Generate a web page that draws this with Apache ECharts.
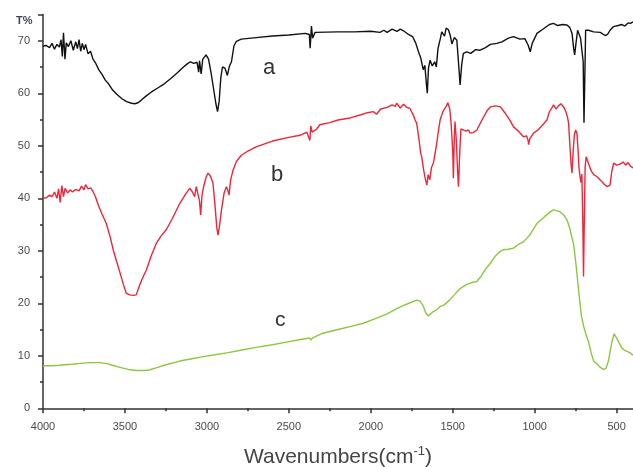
<!DOCTYPE html>
<html>
<head>
<meta charset="utf-8">
<script src="https://cdn.jsdelivr.net/npm/echarts@6/dist/echarts.min.js"></script>
<style>
html, body { margin: 0; padding: 0; background: #fff; }
#chart1 { width: 633px; height: 467px; }
</style>
</head>
<body>
<div id="chart1"></div>
<script>
// wavenumber (cm-1), transmittance (%)
var curveA = [
    [4000, 69.0], [3980, 69.1], [3960, 68.7], [3945, 69.5], [3930, 68.4], [3915, 69.3], [3900, 68.8],
    [3890, 70.2], [3882, 67.0], [3875, 71.5], [3866, 66.5], [3858, 69.6], [3845, 68.9], [3830, 70.0],
    [3815, 68.2], [3800, 69.8], [3790, 68.5], [3780, 70.2], [3770, 68.0], [3760, 69.5], [3750, 68.3],
    [3740, 69.3], [3725, 67.5], [3710, 68.0], [3695, 66.5], [3680, 65.8], [3660, 64.5], [3640, 63.6],
    [3620, 62.5], [3600, 61.8], [3575, 60.6], [3550, 59.8], [3520, 59.0], [3490, 58.4], [3460, 58.1],
    [3440, 58.0], [3420, 58.2], [3400, 58.7], [3370, 59.5], [3340, 60.2], [3300, 61.0], [3260, 61.8],
    [3220, 62.8], [3180, 63.9], [3150, 64.8], [3120, 65.6], [3100, 66.0], [3080, 65.7], [3060, 65.9],
    [3050, 64.0], [3045, 66.2], [3035, 63.7], [3025, 66.5], [3005, 67.3], [2990, 66.5], [2975, 64.0],
    [2960, 61.0], [2945, 58.0], [2935, 56.5], [2925, 58.5], [2915, 63.0], [2905, 65.0], [2890, 64.8],
    [2875, 63.4], [2862, 65.2], [2850, 66.0], [2835, 69.0], [2820, 69.9], [2790, 70.3], [2700, 70.6],
    [2600, 70.9], [2500, 71.1], [2400, 71.4], [2375, 71.2], [2370, 68.6], [2362, 72.8], [2355, 70.5],
    [2340, 71.6], [2200, 71.7], [2100, 71.7], [2000, 71.8], [1944, 71.6], [1920, 72.0], [1900, 71.6],
    [1870, 72.2], [1840, 71.8], [1820, 72.2], [1800, 71.9], [1770, 71.2], [1745, 70.8], [1725, 69.5],
    [1710, 68.0], [1695, 66.7], [1680, 64.5], [1670, 65.3], [1660, 61.5], [1655, 60.0], [1648, 64.8],
    [1638, 66.3], [1625, 65.2], [1610, 66.0], [1600, 65.0], [1590, 68.5], [1575, 70.5], [1567, 71.7],
    [1550, 70.9], [1540, 72.4], [1526, 72.1], [1515, 71.0], [1505, 69.4], [1490, 70.6], [1475, 70.1],
    [1465, 66.0], [1455, 61.6], [1445, 65.5], [1435, 67.6], [1414, 67.9], [1390, 67.6], [1360, 68.3],
    [1333, 68.2], [1300, 68.7], [1270, 69.3], [1231, 69.5], [1200, 69.8], [1160, 70.5], [1129, 70.8],
    [1090, 70.3], [1060, 70.4], [1040, 69.2], [1027, 67.9], [1015, 69.5], [986, 71.4], [950, 72.2],
    [910, 73.1], [885, 73.3], [860, 72.9], [830, 73.1], [803, 73.0], [785, 72.5], [772, 71.4],
    [762, 68.5], [756, 67.3], [748, 69.5], [738, 72.0], [730, 71.8], [720, 70.5], [711, 70.5],
    [704, 66.0], [699, 54.4], [694, 63.0], [689, 72.0], [672, 72.0], [640, 71.7], [600, 71.6],
    [570, 71.0], [555, 71.2], [540, 72.0], [519, 72.7], [490, 72.9], [470, 73.1], [450, 72.8],
    [430, 73.4], [416, 73.3], [400, 73.6]
];

var curveB = [
    [4000, 40.0], [3980, 40.1], [3960, 40.6], [3945, 40.3], [3930, 41.2], [3915, 40.0], [3905, 41.8],
    [3895, 39.2], [3885, 42.4], [3875, 40.3], [3865, 41.9], [3850, 41.0], [3835, 41.6], [3820, 41.2],
    [3800, 41.7], [3780, 41.4], [3765, 42.3], [3750, 41.6], [3740, 42.6], [3725, 41.8], [3710, 42.0],
    [3695, 41.3], [3680, 40.3], [3660, 38.5], [3640, 37.0], [3614, 35.2], [3590, 32.6], [3570, 30.0],
    [3553, 28.2], [3530, 25.8], [3510, 23.6], [3492, 21.9], [3470, 21.6], [3450, 21.5], [3431, 21.6],
    [3410, 23.5], [3390, 25.0], [3370, 26.3], [3340, 29.0], [3309, 31.4], [3280, 32.8], [3248, 34.0],
    [3210, 36.2], [3166, 39.0], [3130, 40.8], [3105, 41.9], [3090, 41.3], [3075, 40.3], [3065, 42.2],
    [3054, 42.5], [3045, 39.5], [3038, 36.8], [3030, 40.5], [3020, 42.2], [3005, 44.0], [2993, 44.8],
    [2978, 44.2], [2963, 42.9], [2950, 38.5], [2940, 34.5], [2932, 33.0], [2922, 35.0], [2911, 37.8],
    [2895, 41.0], [2881, 42.2], [2872, 41.5], [2865, 40.6], [2855, 43.5], [2840, 45.4], [2820, 47.0],
    [2790, 48.2], [2750, 49.0], [2700, 49.8], [2600, 50.9], [2500, 51.6], [2432, 52.0], [2390, 52.6],
    [2378, 52.3], [2372, 51.0], [2366, 53.8], [2358, 52.6], [2330, 53.2], [2311, 54.0], [2250, 54.4],
    [2200, 54.9], [2126, 55.3], [2060, 55.9], [2020, 56.3], [1985, 56.5], [1965, 56.0], [1940, 57.0],
    [1900, 57.3], [1870, 57.8], [1850, 57.5], [1842, 58.1], [1820, 57.2], [1800, 57.9], [1780, 57.3],
    [1761, 57.1], [1740, 55.8], [1730, 54.9], [1720, 54.3], [1705, 51.0], [1695, 48.5], [1689, 47.9],
    [1678, 45.5], [1668, 43.8], [1658, 42.5], [1650, 44.5], [1640, 43.5], [1630, 45.8], [1618, 46.7],
    [1600, 50.0], [1585, 53.3], [1577, 54.9], [1560, 56.5], [1540, 57.5], [1530, 58.2], [1526, 57.8],
    [1518, 57.0], [1510, 54.3], [1500, 49.0], [1496, 43.8], [1490, 52.0], [1486, 54.6], [1478, 51.0],
    [1470, 45.0], [1465, 42.2], [1458, 48.0], [1450, 53.2], [1440, 53.3], [1420, 52.8], [1405, 53.0],
    [1394, 52.4], [1375, 52.5], [1353, 53.0], [1320, 55.0], [1290, 56.7], [1270, 57.4], [1240, 57.6],
    [1209, 57.4], [1180, 56.2], [1150, 54.8], [1129, 53.6], [1100, 52.8], [1080, 52.1], [1068, 51.7],
    [1050, 51.9], [1040, 51.0], [1037, 50.2], [1030, 51.3], [1007, 52.4], [980, 53.0], [950, 54.0],
    [925, 54.9], [910, 56.5], [895, 57.2], [885, 57.8], [870, 57.0], [855, 57.6], [840, 58.0],
    [823, 57.4], [810, 56.5], [800, 55.5], [793, 54.3], [785, 50.0], [778, 46.5], [772, 44.8],
    [765, 49.0], [758, 52.0], [750, 53.0], [742, 52.4], [735, 49.0], [730, 46.0], [726, 44.8],
    [718, 43.0], [712, 44.6], [706, 35.0], [702, 25.1], [698, 34.0], [692, 46.0], [686, 47.9],
    [680, 47.6], [670, 46.5], [655, 45.2], [640, 44.5], [619, 44.1], [600, 43.5], [580, 42.8],
    [558, 42.2], [540, 42.5], [530, 45.0], [518, 46.7], [500, 46.3], [480, 46.5], [460, 46.9],
    [445, 46.3], [430, 46.8], [415, 46.1], [400, 45.8]
];

var curveC = [
    [4000, 8.1], [3950, 8.1], [3900, 8.2], [3872, 8.3], [3820, 8.4], [3760, 8.6], [3700, 8.7],
    [3650, 8.7], [3610, 8.5], [3576, 8.2], [3530, 7.8], [3480, 7.4], [3427, 7.2], [3380, 7.2],
    [3353, 7.3], [3300, 7.8], [3250, 8.3], [3200, 8.7], [3150, 9.1], [3100, 9.4], [3032, 9.8],
    [2950, 10.2], [2870, 10.6], [2786, 11.1], [2700, 11.6], [2600, 12.1], [2500, 12.7], [2430, 13.1],
    [2391, 13.3], [2375, 13.4], [2366, 13.0], [2355, 13.4], [2292, 14.3], [2200, 15.0], [2120, 15.6],
    [2046, 16.2], [1980, 17.0], [1900, 18.0], [1842, 19.0], [1799, 19.6], [1760, 20.1], [1720, 20.6],
    [1700, 20.4], [1680, 19.5], [1665, 18.2], [1650, 17.6], [1638, 17.8], [1620, 18.4], [1600, 18.7],
    [1580, 19.3], [1552, 19.7], [1520, 20.6], [1490, 21.6], [1455, 22.8], [1420, 23.5], [1380, 24.0],
    [1355, 24.1], [1330, 25.0], [1300, 26.5], [1281, 27.2], [1240, 29.0], [1210, 29.9], [1191, 30.2],
    [1160, 30.3], [1129, 30.5], [1100, 31.2], [1068, 31.7], [1030, 33.0], [986, 35.2], [940, 36.5],
    [900, 37.5], [885, 37.8], [860, 37.6], [844, 37.4], [820, 36.7], [803, 35.9], [785, 34.2],
    [772, 32.4], [762, 31.2], [750, 28.0], [740, 25.0], [732, 22.5], [722, 19.5], [714, 17.4],
    [700, 15.5], [689, 14.3], [670, 12.5], [655, 10.5], [639, 8.9], [620, 8.5], [600, 7.8],
    [580, 7.4], [565, 7.6], [550, 9.0], [530, 12.5], [515, 14.2], [503, 14.0], [490, 12.8],
    [470, 11.6], [454, 11.1], [440, 10.9], [420, 10.6], [400, 10.1]
];

var majorTicks = [4000, 3500, 3000, 2500, 2000, 1500, 1000, 500];
var minorTicks = [3750, 3250, 2750, 2250, 1750, 1250, 750];

var myChart = echarts.init(document.getElementById('chart1'));

var axisColor = '#333';
var labelStyle = {
    color: '#4a4a4a',
    fontSize: 11,
    fontFamily: 'Liberation Sans'
};

function line(data, color) {
    return {
        type: 'line',
        data: data,
        showSymbol: false,
        symbol: 'none',
        lineStyle: { color: color, width: 1.4 },
        animation: false
    };
}

option = {
    backgroundColor: '#fff',
    grid: {
        left: 43,
        right: 0,
        top: 14.5,
        bottom: 58.7,
        containLabel: false,
        outerBoundsMode: 'none'
    },
    xAxis: [{
        type: 'value',
        min: 400,
        max: 4000,
        inverse: true,
        position: 'bottom',
        splitLine: { show: false },
        axisLine: { lineStyle: { color: axisColor, width: 1.5 } },
        axisTick: {
            customValues: majorTicks,
            length: 5,
            lineStyle: { color: axisColor, width: 1.5 }
        },
        axisLabel: Object.assign({
            customValues: majorTicks,
            margin: 13,
            formatter: function (v) { return String(v); }
        }, labelStyle),
        name: '{t|Wavenumbers(cm}{s|-1}{t|)}',
        nameLocation: 'middle',
        nameGap: 37,
        nameTextStyle: {
            rich: {
                t: { fontSize: 21, color: '#444', fontFamily: 'Liberation Sans', lineHeight: 24 },
                s: { fontSize: 13, color: '#444', fontFamily: 'Liberation Sans', verticalAlign: 'top', lineHeight: 24, padding: [0, 0, 10, 0] }
            }
        }
    }, {
        type: 'value',
        min: 400,
        max: 4000,
        inverse: true,
        position: 'bottom',
        splitLine: { show: false },
        axisLine: { show: false },
        axisTick: {
            customValues: minorTicks,
            length: 3,
            lineStyle: { color: axisColor, width: 1.5 }
        },
        axisLabel: { show: false }
    }],
    yAxis: {
        type: 'value',
        min: 0,
        max: 75,
        interval: 10,
        splitLine: { show: false },
        axisLine: { show: true, lineStyle: { color: axisColor, width: 1.5 } },
        axisTick: { show: true, length: 5, lineStyle: { color: axisColor, width: 1.5 } },
        minorTick: { show: true, splitNumber: 2, length: 3, lineStyle: { color: axisColor, width: 1.5 } },
        axisLabel: Object.assign({ margin: 13, showMaxLabel: false }, labelStyle)
    },
    graphic: [
        { type: 'text', left: 16, top: 15, style: { text: 'T%', fontSize: 11, fill: '#3c4660', fontFamily: 'Liberation Sans', fontWeight: 'bold' } },
        { type: 'text', left: 263, top: 57, style: { text: 'a', fontSize: 22, fill: '#333', fontFamily: 'Liberation Sans' } },
        { type: 'text', left: 271, top: 164, style: { text: 'b', fontSize: 22, fill: '#333', fontFamily: 'Liberation Sans' } },
        { type: 'text', left: 275, top: 310, style: { text: 'c', fontSize: 21, fill: '#333', fontFamily: 'Liberation Sans' } }
    ],
    series: [
        line(curveC, '#8dc63f'),
        line(curveB, '#f0253a'),
        line(curveA, '#111111')
    ]
};
myChart.setOption(option);
window.onresize = myChart.resize;
</script>
</body>
</html>
